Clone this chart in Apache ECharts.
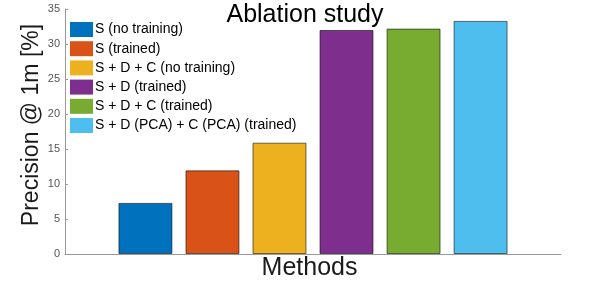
<!DOCTYPE html>
<html><head><meta charset="utf-8">
<script src="https://cdn.jsdelivr.net/npm/echarts@6/dist/echarts.min.js"></script>
<style>html,body{margin:0;padding:0;background:#fff}#c{width:598px;height:281px}</style>
</head><body><div id="c"></div>
<script>
const methods = ['S (no training)', 'S (trained)', 'S + D + C (no training)', 'S + D (trained)', 'S + D + C (trained)', 'S + D (PCA) + C (PCA) (trained)'];
const positions = [1, 2, 3, 4, 5, 6];
const precision = [7.3, 11.95, 15.9, 32.0, 32.2, 33.3];
const colors = ['#0072BD', '#D95319', '#EDB120', '#7E2F8E', '#77AC30', '#4DBEEE'];
const yTicks = [0, 5, 10, 15, 20, 25, 30, 35];
const yLabel = 'Precision @ 1m [%]';

const font = 'Liberation Sans, Arial, Helvetica, sans-serif';
const chart = echarts.init(document.getElementById('c'));
chart.setOption({
  animation: false,
  textStyle: {fontFamily: font},
  title: {text: 'Ablation study', left: 300, top: -2, textAlign: 'center',
    textStyle: {fontSize: 25, fontWeight: 'normal', color: '#000', fontFamily: font}},
  legend: {left: 70, top: 22, orient: 'vertical', padding: 0, itemWidth: 23, itemHeight: 15, itemGap: 4.2,
    icon: 'rect', itemStyle: {borderWidth: 0},
    textStyle: {fontSize: 14, color: '#000', fontFamily: font, padding: [0,0,0,-3]},
    data: methods},
  graphic: [{type: 'text', x: 32, y: 125, rotation: Math.PI / 2,
    style: {text: yLabel, font: '23px ' + font, fill: '#1a1a1a', align: 'center', verticalAlign: 'middle'}}],
  grid: {left: 65, right: 37, top: 9, bottom: 27, outerBoundsMode: 'none', containLabel: false},
  xAxis: {type: 'value', min: -0.2, max: 7.2, name: 'Methods', nameLocation: 'middle', nameGap: 2,
    nameTextStyle: {fontSize: 25, color: '#1a1a1a', fontFamily: font, verticalAlign: 'top', padding: [0, 7, 0, 0]},
    axisLine: {show: true, onZero: false, lineStyle: {color: '#999', width: 1}}, axisTick: {show: false},
    axisLabel: {show: false}, splitLine: {show: false}},
  yAxis: {type: 'value', min: 0, max: 35, interval: 5,
    axisLine: {show: true, onZero: false, lineStyle: {color: '#999', width: 1}},
    axisTick: {show: true, inside: true, length: 3, lineStyle: {color: '#999'}},
    axisLabel: {fontSize: 11, color: '#555', margin: 5, fontFamily: font,
      formatter: v => yTicks.includes(v) ? String(v) : ''},
    splitLine: {show: false}},
  series: methods.map((m, i) => ({
    name: m, type: 'bar', barWidth: 54, barGap: '-100%',
    itemStyle: {color: colors[i], borderColor: 'rgba(0,0,0,0.55)', borderWidth: 1},
    data: [[positions[i], precision[i]]]
  }))
});
</script></body></html>
